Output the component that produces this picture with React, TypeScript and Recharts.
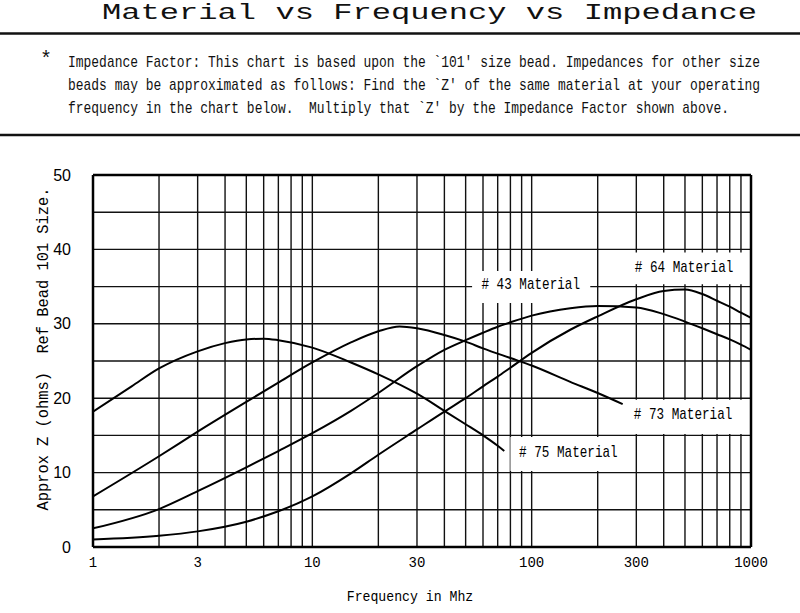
import React from 'react';
import {
  LineChart,
  Line,
  XAxis,
  YAxis,
  CartesianGrid,
  ReferenceArea,
  ReferenceDot,
  ReferenceLine,
} from 'recharts';

// grid + tick values
const xGrid = [1, 2, 3, 4, 5, 6, 7, 8, 9, 10, 20, 30, 40, 50, 60, 70, 80, 90, 100, 200, 300, 400, 500, 600, 700, 800, 900, 1000];
const xTickLabels = [1, 3, 10, 30, 100, 300, 1000];
const yGrid = [0, 5, 10, 15, 20, 25, 30, 35, 40, 45, 50];
const yTickLabels = [0, 10, 20, 30, 40, 50];

// impedance (ohms) vs frequency (MHz)
const mat75 = [
  { f: 1, z: 18.2 }, { f: 1.5, z: 21.6 }, { f: 2, z: 24.0 }, { f: 3, z: 26.3 }, { f: 4, z: 27.4 },
  { f: 5, z: 27.9 }, { f: 6, z: 28.0 }, { f: 7, z: 27.8 }, { f: 10, z: 26.8 }, { f: 15, z: 24.8 },
  { f: 20, z: 23.2 }, { f: 30, z: 20.6 }, { f: 40, z: 18.3 }, { f: 50, z: 16.5 }, { f: 60, z: 15.0 },
  { f: 70, z: 13.6 }, { f: 75, z: 12.9 },
];
const mat73 = [
  { f: 1, z: 6.8 }, { f: 2, z: 12.2 }, { f: 3, z: 15.5 }, { f: 5, z: 19.5 }, { f: 7, z: 22.1 },
  { f: 10, z: 24.8 }, { f: 15, z: 27.5 }, { f: 20, z: 29.0 }, { f: 25, z: 29.65 }, { f: 30, z: 29.4 },
  { f: 40, z: 28.5 }, { f: 50, z: 27.6 }, { f: 60, z: 26.7 }, { f: 80, z: 25.4 }, { f: 100, z: 24.4 },
  { f: 150, z: 22.2 }, { f: 200, z: 20.7 }, { f: 260, z: 19.2 },
];
const mat43 = [
  { f: 1, z: 2.5 }, { f: 2, z: 5.1 }, { f: 3, z: 7.5 }, { f: 5, z: 10.7 }, { f: 7, z: 12.9 },
  { f: 10, z: 15.3 }, { f: 15, z: 18.3 }, { f: 20, z: 20.7 }, { f: 30, z: 24.3 }, { f: 40, z: 26.5 },
  { f: 50, z: 27.8 }, { f: 60, z: 28.8 }, { f: 70, z: 29.6 }, { f: 80, z: 30.2 }, { f: 100, z: 31.1 },
  { f: 150, z: 32.1 }, { f: 200, z: 32.4 }, { f: 300, z: 32.2 }, { f: 400, z: 31.3 }, { f: 500, z: 30.3 },
  { f: 600, z: 29.4 }, { f: 700, z: 28.6 }, { f: 800, z: 27.9 }, { f: 900, z: 27.2 }, { f: 1000, z: 26.5 },
];
const mat64 = [
  { f: 1, z: 1.0 }, { f: 2, z: 1.5 }, { f: 3, z: 2.1 }, { f: 5, z: 3.4 }, { f: 7, z: 4.8 },
  { f: 10, z: 6.8 }, { f: 15, z: 9.9 }, { f: 20, z: 12.4 }, { f: 30, z: 15.8 }, { f: 40, z: 18.2 },
  { f: 50, z: 20.0 }, { f: 60, z: 21.6 }, { f: 70, z: 22.9 }, { f: 80, z: 24.1 }, { f: 100, z: 26.1 },
  { f: 150, z: 29.2 }, { f: 200, z: 31.0 }, { f: 300, z: 33.3 }, { f: 400, z: 34.4 }, { f: 500, z: 34.6 },
  { f: 600, z: 34.0 }, { f: 700, z: 33.1 }, { f: 800, z: 32.3 }, { f: 900, z: 31.5 }, { f: 1000, z: 30.8 },
];

const seriesList = [mat75, mat73, mat43, mat64];

// curve tags: white box behind the text (data coords)
const tags = [
  { text: '# 43 Material', f: 99, z: 35.3, box: [53.5, 185, 32.8, 37.1] },
  { text: '# 64 Material', f: 495, z: 37.5, box: [250, 1000, 35.3, 39.6] },
  { text: '# 73 Material', f: 490, z: 17.8, box: [205, 1000, 15.2, 19.8] },
  { text: '# 75 Material', f: 147, z: 12.65, box: [80, 281, 10.2, 14.8] },
];

const title = 'Material vs Frequency vs Impedance';
const noteLines = [
  "Impedance Factor: This chart is based upon the `101' size bead. Impedances for other size",
  "beads may be approximated as follows: Find the `Z' of the same material at your operating",
  "frequency in the chart below.  Multiply that `Z' by the Impedance Factor shown above.",
];

const MONO = '"Liberation Mono", "DejaVu Sans Mono", monospace';
const NARROW = '"Liberation Sans Narrow", "Liberation Sans", Arial, sans-serif';

const tagContent = (text: string) => (props: any) => {
  const vb = props.viewBox || {};
  const cx = vb.x + (vb.width || 0) / 2;
  const cy = vb.y + (vb.height || 0) / 2;
  return (
    <text
      transform={`translate(${cx}, ${cy}) scale(0.79, 1)`}
      x={0}
      y={0}
      textAnchor="middle"
      dominantBaseline="central"
      fontFamily={MONO}
      fontSize={16}
      fill="#000"
    >
      {text}
    </text>
  );
};

const XLabel = (props: any) => {
  const vb = props.viewBox;
  const x = vb.x + vb.width / 2 - 12;
  const y = vb.y + 50;
  return (
    <text transform={`translate(${x}, ${y}) scale(0.88, 1)`} x={0} y={0} textAnchor="middle"
      dominantBaseline="central" fontFamily={MONO} fontSize={15} fill="#000">
      Frequency in Mhz
    </text>
  );
};

const YLabel = (props: any) => {
  const vb = props.viewBox;
  const x = 44;
  const y = vb.y + vb.height / 2 - 12;
  return (
    <text transform={`translate(${x}, ${y}) rotate(-90) scale(0.905, 1)`} x={0} y={0}
      textAnchor="middle" dominantBaseline="central" fontFamily={MONO} fontSize={17} fill="#000"
      style={{ whiteSpace: 'pre' }}>
      {'Approx Z (ohms)  Ref Bead 101 Size.'}
    </text>
  );
};

export default function App() {
  return (
    <div style={{ position: 'absolute', left: 0, top: 0, width: 800, height: 613, background: '#fff' }}>
      <svg width={800} height={140} style={{ position: 'absolute', left: 0, top: 0 }}>
        <text transform="translate(102, 18.5) scale(1.46, 1)" x={0} y={0} fontFamily={MONO}
          fontSize={22} fill="#111">
          {title}
        </text>
        <line x1={0} x2={800} y1={33.5} y2={33.5} stroke="#111" strokeWidth={2.5} />
        <text x={46} y={65} textAnchor="middle" fontFamily={MONO} fontSize={20} fill="#111">*</text>
        {noteLines.map((t, i) => (
          <text key={i} transform={`translate(68, ${66.5 + i * 23.3}) scale(0.811, 1)`} x={0} y={0}
            fontFamily={MONO} fontSize={16} fill="#111" style={{ whiteSpace: 'pre' }}>
            {t}
          </text>
        ))}
        <line x1={0} x2={800} y1={135} y2={135} stroke="#111" strokeWidth={2.5} />
      </svg>

      <div style={{ position: 'absolute', left: 0, top: 0 }}>
        <LineChart width={800} height={613} margin={{ top: 175, right: 49, bottom: 36, left: 0 }}>
          <CartesianGrid stroke="#111" strokeWidth={1.4} />
          <XAxis
            dataKey="f"
            type="number"
            scale="log"
            domain={[1, 1000]}
            allowDataOverflow
            ticks={xGrid}
            interval={0}
            tickFormatter={(v: number) => (xTickLabels.includes(v) ? String(v) : '')}
            tickLine={false}
            tickMargin={4}
            height={30}
            axisLine={{ stroke: '#000', strokeWidth: 2.5 }}
            tick={{ fill: '#000', fontSize: 14, fontFamily: MONO }}
            label={XLabel}
          />
          <YAxis
            type="number"
            domain={[0, 50]}
            allowDataOverflow
            ticks={yGrid}
            interval={0}
            tickFormatter={(v: number) => (yTickLabels.includes(v) ? String(v) : '')}
            tickLine={false}
            tickMargin={16}
            width={93}
            axisLine={{ stroke: '#000', strokeWidth: 2.5 }}
            tick={{ fill: '#000', fontSize: 16, fontFamily: NARROW }}
            label={YLabel}
          />
          {tags.map((t) => (
            <ReferenceArea
              key={'box' + t.text}
              x1={t.box[0]}
              x2={t.box[1]}
              y1={t.box[2]}
              y2={t.box[3]}
              fill="#fff"
              fillOpacity={1}
              stroke="none"
            />
          ))}
          <ReferenceLine y={50} stroke="#000" strokeWidth={2.5} />
          <ReferenceLine x={1000} stroke="#000" strokeWidth={2.5} />
          {seriesList.map((s, i) => (
            <Line
              key={i}
              data={s}
              dataKey="z"
              type="monotone"
              stroke="#000"
              strokeWidth={2}
              dot={false}
              activeDot={false}
              isAnimationActive={false}
            />
          ))}
          {tags.map((t) => (
            <ReferenceDot key={'tag' + t.text} x={t.f} y={t.z} r={0} fill="none" stroke="none" label={tagContent(t.text)} />
          ))}
        </LineChart>
      </div>
    </div>
  );
}
